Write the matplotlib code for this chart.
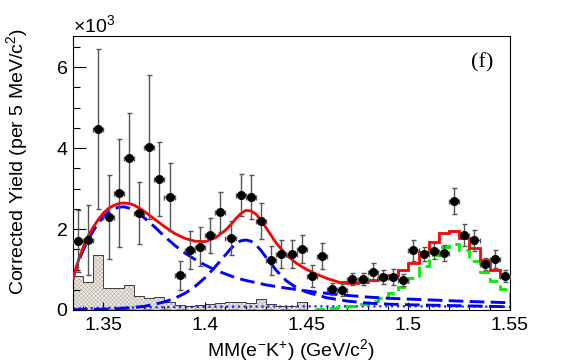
import numpy as np
import matplotlib
matplotlib.use("Agg")
import matplotlib.pyplot as plt
from matplotlib.ticker import MultipleLocator, FuncFormatter

plt.rcParams['font.family'] = ['Liberation Sans', 'DejaVu Sans']
plt.rcParams['mathtext.default'] = 'regular'
plt.rcParams['hatch.linewidth'] = 0.35

# data points: bin centers of MM(e-K+) in GeV/c^2, yield in units of 10^3
mm = [1.3375, 1.3425, 1.3475, 1.3525, 1.3575, 1.3625, 1.3675, 1.3725, 1.3775, 1.3825,
      1.3875, 1.3925, 1.3975, 1.4025, 1.4075, 1.4125, 1.4175, 1.4225, 1.4275, 1.4325,
      1.4375, 1.4425, 1.4475, 1.4525, 1.4575, 1.4625, 1.4675, 1.4725, 1.4775, 1.4825,
      1.4875, 1.4925, 1.4975, 1.5025, 1.5075, 1.5125, 1.5175, 1.5225, 1.5275, 1.5325,
      1.5375, 1.5425, 1.5475]
yld = [1.70, 1.73, 4.47, 2.30, 2.89, 3.75, 2.40, 4.02, 3.23, 2.79,
       0.86, 1.48, 1.56, 1.85, 2.42, 1.78, 2.84, 2.79, 2.20, 1.23,
       1.38, 1.38, 1.51, 0.84, 1.33, 0.52, 0.49, 0.77, 0.77, 0.94,
       0.82, 0.82, 0.74, 1.48, 1.38, 1.46, 1.41, 2.69, 1.85, 1.72,
       1.14, 1.26, 0.84]
yld_err = [0.76, 0.87, 1.97, 1.04, 1.33, 1.11, 0.77, 1.78, 0.91, 0.84,
           0.36, 0.47, 0.48, 0.43, 0.49, 0.43, 0.52, 0.54, 0.45, 0.36,
           0.35, 0.35, 0.35, 0.26, 0.32, 0.15, 0.15, 0.15, 0.15, 0.22,
           0.17, 0.19, 0.14, 0.26, 0.18, 0.20, 0.20, 0.33, 0.27, 0.25,
           0.15, 0.22, 0.16]

# background histogram (hatched), first 23 bins
bkg = [0.84, 0.69, 1.36, 0.54, 0.54, 0.62, 0.35, 0.29, 0.31, 0.21,
       0.12, 0.11, 0.12, 0.16, 0.18, 0.20, 0.20, 0.17, 0.27, 0.15,
       0.11, 0.11, 0.20]

# Lambda(1520)-like template (green steps), all 43 bins
green = [0, 0, 0, 0, 0, 0, 0, 0, 0, 0,
         0, 0, 0, 0, 0, 0, 0, 0, 0, 0,
         0, 0, 0, 0, 0.02, 0.04, 0.07, 0.11, 0.16, 0.22,
         0.30, 0.42, 0.57, 0.80, 1.09, 1.35, 1.56, 1.62, 1.48, 1.20,
         0.95, 0.72, 0.52]

# total fit, stepped part (last 17 bins)
red_step = [0.68, 0.67, 0.70, 0.74, 0.79, 0.86, 0.99, 1.15, 1.43, 1.69,
            1.90, 1.96, 1.78, 1.54, 1.23, 0.99, 0.82]

# total fit, smooth part
red_x = [1.335, 1.3375, 1.34, 1.3425, 1.345, 1.3475, 1.35, 1.3525, 1.355, 1.3575,
         1.36, 1.3625, 1.365, 1.3675, 1.37, 1.375, 1.38, 1.385, 1.39, 1.395,
         1.40, 1.405, 1.41, 1.4125, 1.415, 1.4175, 1.42, 1.4225, 1.425, 1.4275,
         1.43, 1.435, 1.44, 1.445, 1.45, 1.455, 1.46, 1.465]
red_y = [0.79, 1.20, 1.55, 1.83, 2.05, 2.24, 2.40, 2.51, 2.58, 2.63,
         2.645, 2.63, 2.59, 2.52, 2.44, 2.25, 2.06, 1.89, 1.77, 1.70,
         1.69, 1.78, 1.97, 2.10, 2.25, 2.38, 2.46, 2.45, 2.37, 2.22,
         2.03, 1.65, 1.36, 1.15, 1.00, 0.88, 0.78, 0.70]

# broad component (blue dashed)
broad_x = [1.335, 1.3375, 1.34, 1.3425, 1.345, 1.3475, 1.35, 1.3525, 1.355, 1.3575,
           1.36, 1.3625, 1.365, 1.3675, 1.37, 1.375, 1.38, 1.385, 1.39, 1.395,
           1.40, 1.405, 1.41, 1.415, 1.42, 1.43, 1.44, 1.45, 1.46, 1.47,
           1.48, 1.49, 1.50, 1.51, 1.52, 1.53, 1.54, 1.55]
broad_y = [0.79, 1.17, 1.48, 1.74, 1.96, 2.15, 2.30, 2.42, 2.50, 2.54,
           2.55, 2.52, 2.46, 2.38, 2.28, 2.06, 1.82, 1.60, 1.41, 1.25,
           1.11, 0.99, 0.89, 0.80, 0.73, 0.62, 0.54, 0.47, 0.41, 0.36,
           0.32, 0.29, 0.27, 0.25, 0.23, 0.21, 0.195, 0.18]

# narrow component near 1.42 (blue dashed)
narrow_x = [1.335, 1.35, 1.36, 1.37, 1.375, 1.38, 1.385, 1.39, 1.395, 1.40,
            1.405, 1.41, 1.4125, 1.415, 1.4175, 1.42, 1.4225, 1.425, 1.4275, 1.43,
            1.435, 1.44, 1.445, 1.45, 1.46, 1.47, 1.48, 1.49, 1.50, 1.52, 1.55]
narrow_y = [0.01, 0.02, 0.04, 0.09, 0.14, 0.20, 0.29, 0.41, 0.58, 0.80,
            1.07, 1.36, 1.51, 1.63, 1.71, 1.73, 1.70, 1.61, 1.47, 1.30,
            0.98, 0.72, 0.55, 0.44, 0.30, 0.22, 0.17, 0.145, 0.13, 0.11, 0.08]

# small component (blue dotted)
small_x = [1.335, 1.36, 1.40, 1.45, 1.50, 1.55]
small_y = [0.04, 0.06, 0.08, 0.09, 0.09, 0.08]

xticks = [1.35, 1.40, 1.45, 1.50, 1.55]
yticks = [0, 2, 4, 6]

half_w = 0.0025
edges = np.r_[np.array(mm) - half_w, mm[-1] + half_w]

fig = plt.figure(figsize=(5.67, 3.64), dpi=100)
ax = fig.add_axes([73 / 567, 1 - 310 / 364, 437 / 567, 274 / 364])

# background
ax.stairs(bkg, edges[:len(bkg) + 1], fill=True, facecolor='#f0ebe6',
          hatch='xxxxxxxx', edgecolor='#b0a89f', linewidth=0, zorder=1)
ax.stairs(bkg, edges[:len(bkg) + 1], color='#222222', linewidth=0.6, zorder=1.5)

ax.plot(small_x, small_y, color='#2020ff', linestyle=':', linewidth=1.6, zorder=2)
ax.stairs(green, edges, color='#00ee00', linewidth=2.0, linestyle=(0, (4, 2.2)), zorder=2)
ax.plot(broad_x, broad_y, color='#0000ff', linewidth=2.1, linestyle=(0, (5, 2.2)), zorder=3)
ax.plot(narrow_x, narrow_y, color='#0000ff', linewidth=2.1, linestyle=(0, (5, 2.2)), zorder=3)

ax.plot(red_x, red_y, color='#ff0000', linewidth=2.0, zorder=4)
ax.stairs(red_step, edges[-len(red_step) - 1:], baseline=None, color='#ff0000',
          linewidth=2.0, zorder=4)

ax.errorbar(mm, yld, yerr=yld_err, xerr=half_w, fmt='o', color='black', ms=5.5,
            ecolor='#555555', elinewidth=1.0, capsize=1.8, capthick=1.0, zorder=5)

ax.set_xlim(1.335, 1.55)
ax.set_ylim(0, 6.77)
ax.set_xticks(xticks)
ax.set_yticks(yticks)
ax.xaxis.set_minor_locator(MultipleLocator(0.01))
ax.yaxis.set_minor_locator(MultipleLocator(0.5))
ax.xaxis.set_major_formatter(FuncFormatter(lambda v, p: f"{v:g}"))
ax.tick_params(axis='both', which='both', direction='in', top=False, right=False,
               labelsize=14, width=0.8)
ax.tick_params(axis='y', which='major', length=9.5, pad=4)
ax.tick_params(axis='y', which='minor', length=4.8)
ax.tick_params(axis='x', which='major', length=6, pad=5)
ax.tick_params(axis='x', which='minor', length=3)
for s in ax.spines.values():
    s.set_linewidth(0.8)

fig.text(73 / 567, 1 - 36 / 364, r'$\times$10$^{3}$', fontsize=14, ha='left', va='bottom')
fig.text(482 / 567, 1 - 63 / 364, '(f)', fontsize=16, family='Liberation Serif',
         ha='center', va='center')
fig.text(291 / 567, 1 - 350 / 364, r'MM(e$^{-}$K$^{+}$) (GeV/c$^{2}$)', fontsize=14,
         ha='center', va='center')
fig.text(17 / 567, 1 - 162 / 364, r'Corrected Yield (per 5 MeV/c$^{2}$)', fontsize=14,
         rotation=90, ha='center', va='center')

fig.savefig('out.png', dpi=100)
